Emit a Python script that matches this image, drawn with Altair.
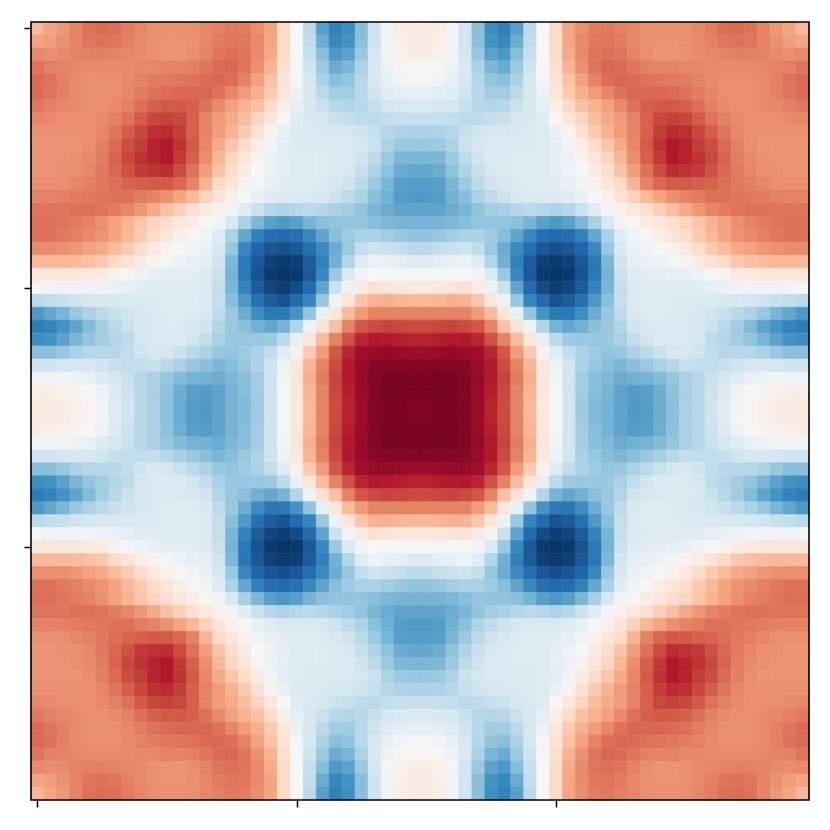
import altair as alt
import pandas as pd

# Upper-left quadrant (hundredths); the field mirrors about the centre.
Q = [
[33,40,44,50,55,57,56,52,49,47,46,46,47,49,51,53,52,47,40,20,0,-27,-55,-68,-62,-42,-20,-3,7,9],
[40,42,46,50,54,55,54,51,48,46,45,45,46,49,52,54,53,48,40,20,0,-25,-50,-65,-60,-42,-20,-3,6,8],
[48,47,48,50,51,51,50,49,48,46,45,45,47,50,54,56,54,48,38,19,0,-23,-43,-58,-54,-38,-18,-3,5,7],
[54,51,50,49,48,48,48,48,49,49,50,50,51,54,57,58,54,46,35,17,-1,-20,-37,-50,-46,-32,-16,-5,1,2],
[57,55,51,48,47,47,47,48,50,52,53,54,55,57,58,56,50,41,29,14,-2,-18,-32,-42,-40,-29,-17,-8,-3,-2],
[57,54,51,48,47,46,47,49,52,55,57,58,58,58,55,49,43,36,26,12,-5,-17,-27,-35,-35,-28,-20,-13,-10,-9],
[53,51,49,48,47,47,48,51,56,60,62,62,60,55,48,41,35,30,19,6,-9,-16,-22,-28,-30,-28,-23,-18,-16,-15],
[49,48,47,47,47,48,51,55,62,68,70,68,60,50,43,38,31,22,11,0,-12,-16,-18,-22,-24,-26,-27,-25,-24,-23],
[46,46,46,46,47,49,54,61,68,75,76,71,60,50,43,35,26,15,3,-7,-13,-15,-16,-17,-18,-20,-24,-28,-31,-32],
[45,45,45,45,47,51,57,66,71,78,80,74,62,49,38,28,18,8,-3,-10,-13,-14,-14,-15,-15,-18,-22,-31,-37,-38],
[45,45,45,46,48,52,59,68,74,78,80,72,60,47,34,22,12,3,-5,-10,-12,-13,-13,-14,-15,-20,-27,-37,-45,-46],
[45,45,46,47,49,53,58,65,72,74,75,67,55,42,29,18,8,0,-6,-10,-12,-12,-13,-15,-17,-23,-31,-41,-50,-52],
[47,47,47,49,51,53,56,59,60,62,62,58,50,35,20,12,4,-3,-8,-11,-12,-12,-14,-17,-21,-27,-37,-46,-55,-56],
[50,50,51,52,53,54,55,55,52,50,46,40,33,23,13,5,-2,-8,-12,-15,-15,-15,-17,-21,-26,-32,-42,-48,-56,-57],
[54,54,54,55,55,54,52,49,44,38,30,24,17,10,5,-3,-12,-22,-28,-31,-29,-27,-29,-33,-35,-40,-46,-50,-53,-53],
[56,56,54,52,50,46,41,35,28,22,17,11,7,2,-3,-16,-33,-45,-55,-58,-55,-47,-42,-40,-40,-40,-43,-45,-47,-47],
[55,55,53,51,48,45,40,33,26,18,12,6,1,-4,-12,-32,-52,-68,-76,-78,-75,-65,-53,-43,-36,-32,-32,-35,-38,-40],
[47,47,46,44,41,38,32,26,18,10,4,0,-3,-7,-16,-38,-65,-80,-86,-88,-85,-76,-64,-50,-38,-25,-20,-22,-24,-27],
[33,33,33,32,30,27,20,14,8,3,-2,-6,-8,-10,-19,-45,-72,-85,-93,-96,-94,-84,-68,-48,-30,-12,-6,-8,-10,-13],
[12,12,12,11,10,8,4,-2,-5,-8,-10,-10,-11,-13,-22,-47,-72,-87,-96,-98,-96,-85,-65,-38,-14,-3,0,-1,-2,-2],
[-2,-3,-4,-4,-4,-5,-7,-9,-11,-12,-12,-12,-13,-15,-24,-46,-67,-84,-92,-95,-90,-78,-53,-22,-4,8,15,13,11,10],
[-27,-25,-23,-20,-18,-17,-16,-15,-15,-14,-13,-12,-12,-15,-24,-42,-58,-75,-84,-87,-78,-66,-38,-6,12,28,35,36,34,33],
[-58,-52,-46,-38,-32,-27,-23,-20,-17,-15,-13,-12,-13,-16,-26,-38,-50,-62,-72,-71,-60,-40,-8,12,32,43,50,50,50,50],
[-70,-67,-60,-53,-44,-35,-28,-22,-17,-15,-14,-15,-17,-20,-30,-38,-42,-48,-52,-47,-30,-5,14,30,50,63,67,69,68,67],
[-62,-60,-54,-46,-40,-35,-30,-26,-18,-15,-14,-15,-19,-25,-33,-38,-38,-38,-37,-27,-8,12,32,50,65,77,80,80,79,78],
[-42,-42,-38,-32,-29,-28,-28,-25,-20,-17,-18,-22,-27,-32,-38,-40,-36,-32,-25,-12,4,26,43,63,77,85,87,88,87,86],
[-20,-20,-18,-16,-17,-20,-23,-25,-25,-24,-28,-33,-38,-42,-46,-43,-38,-32,-20,-6,10,34,50,67,80,87,91,92,92,92],
[-3,-3,-3,-5,-8,-13,-18,-22,-28,-33,-39,-44,-47,-48,-50,-45,-42,-35,-20,-3,12,36,52,69,80,88,92,95,95,94],
[7,6,5,3,0,-6,-14,-21,-28,-33,-41,-49,-55,-56,-53,-47,-43,-35,-20,-2,11,34,50,68,79,87,92,95,95,94],
[9,8,7,5,2,-3,-12,-20,-28,-33,-42,-50,-56,-57,-53,-47,-44,-36,-20,-2,10,33,50,67,78,86,92,94,94,93],
]
TICKS = [0, 20, 40]
COLORS = ["#053061","#2166ac","#4393c3","#92c5de","#d1e5f0","#f7f7f7",
          "#fddbc7","#f4a582","#d6604d","#b2182b","#67001f"]
STOPS = [-1,-.8,-.6,-.4,-.2,0,.2,.4,.6,.8,1]

top = [row + row[::-1] for row in Q]
grid = top + top[::-1]
rows = []
for r, row in enumerate(grid):
    for c, v in enumerate(row):
        rows.append({"x": c-.5, "x2": c+.5, "y": r-.5, "y2": r+.5, "v": v/100})
df = pd.DataFrame(rows)

xs = alt.Scale(domain=[-0.5, 59.5], nice=False, zero=False)
ys = alt.Scale(domain=[59.5, -0.5], nice=False, zero=False)
col = alt.Scale(domain=STOPS, range=COLORS, clamp=True)

heat = alt.Chart(df).mark_rect(strokeWidth=0.7).encode(
    x=alt.X("x:Q", scale=xs, axis=alt.Axis(values=TICKS, labels=False, title=None, grid=False, domain=False,
                                           tickSize=7, tickWidth=1.5, tickColor="black")),
    x2="x2:Q",
    y=alt.Y("y:Q", scale=ys, axis=alt.Axis(values=TICKS, labels=False, title=None, grid=False, domain=False,
                                           tickSize=7, tickWidth=1.5, tickColor="black")),
    y2="y2:Q",
    fill=alt.Fill("v:Q", scale=col, legend=None),
    stroke=alt.Stroke("v:Q", scale=col, legend=None),
)
frame = alt.Chart(pd.DataFrame({"a": [-0.5], "b": [59.5]})).mark_rect(
    fillOpacity=0, stroke="black", strokeWidth=1.6).encode(
    x=alt.X("a:Q", scale=xs), x2="b:Q", y=alt.Y("a:Q", scale=ys), y2="b:Q")

chart = (heat + frame).resolve_scale(fill="independent", stroke="independent").properties(
    width=778, height=778,
    padding={"left": 15, "top": 13, "right": 0, "bottom": 0},
).configure_view(stroke=None)
chart.save("out.html", embed_options={"renderer": "svg", "actions": False})
